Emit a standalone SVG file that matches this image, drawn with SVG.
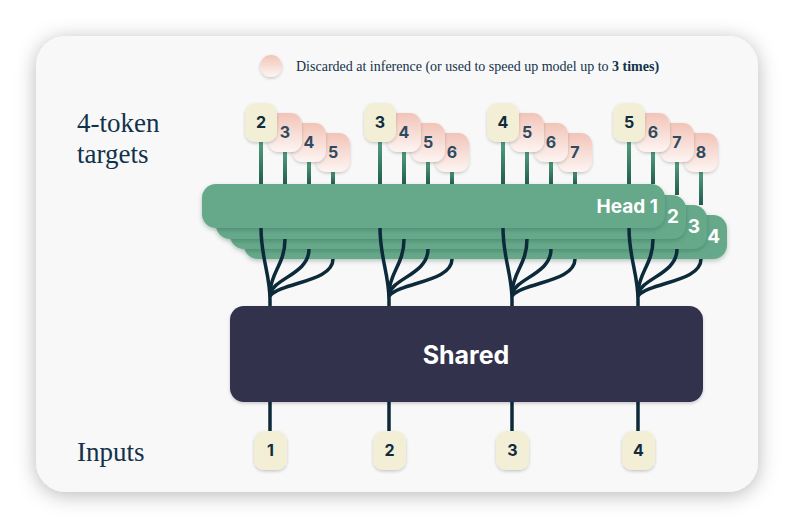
<svg xmlns="http://www.w3.org/2000/svg" width="794" height="528" viewBox="0 0 794 528">
<defs>
<filter id="cardShadow" x="-10%" y="-10%" width="120%" height="120%">
<feDropShadow dx="0" dy="3" stdDeviation="10" flood-color="#000" flood-opacity="0.28"/>
</filter>
<filter id="sh" x="-30%" y="-30%" width="160%" height="160%">
<feDropShadow dx="0" dy="1.5" stdDeviation="1.5" flood-color="#000" flood-opacity="0.2"/>
</filter>
<filter id="headSh" x="-5%" y="-30%" width="110%" height="160%">
<feDropShadow dx="0" dy="2" stdDeviation="2" flood-color="#1d4a38" flood-opacity="0.3"/>
</filter>
<linearGradient id="pink" x1="0" y1="0" x2="0" y2="1">
<stop offset="0" stop-color="#f2c4b8"/>
<stop offset="1" stop-color="#fdf5f2"/>
</linearGradient>
<linearGradient id="stemG" x1="0" y1="0" x2="0" y2="1">
<stop offset="0" stop-color="#55a283"/>
<stop offset="1" stop-color="#225c4d"/>
</linearGradient>
<style>
.lbl{font-family:"Liberation Serif","Times New Roman",serif;fill:#12324a}
.tok{font-family:Inter,"Noto Sans",sans-serif;font-weight:700;font-size:16px;text-anchor:middle}
.tgt{fill:#f2efd6}
.tgtT{fill:#0f2b3c}
.pk{fill:url(#pink)}
.pkT{fill:#2f4a60}
.stem{fill:url(#stemG)}
.wire{fill:none;stroke:#0c2a3a;stroke-width:3.5;stroke-linecap:butt}
.head{fill:#66a98a}
.headT{font-family:Inter,"Noto Sans",sans-serif;font-weight:700;font-size:19px;fill:#ffffff;text-anchor:end}
</style>
</defs>
<rect width="794" height="528" fill="#ffffff"/>
<rect id="card" x="36" y="36" width="722" height="456" rx="30" fill="#f8f8f8" filter="url(#cardShadow)"/>

<g id="labels">
<text class="lbl" x="77" y="132" font-size="27">4-token</text>
<text class="lbl" x="77" y="163" font-size="27">targets</text>
<text class="lbl" x="77" y="461" font-size="27">Inputs</text>
</g>

<g id="legend">
<circle cx="271" cy="66" r="11" class="pk" filter="url(#sh)"/>
<text class="lbl" x="296" y="71" font-size="14">Discarded at inference (or used to speed up model up to <tspan font-weight="700">3 times)</tspan></text>
</g>

<g id="head4">
<rect class="head" x="244" y="215" width="483" height="44" rx="14" filter="url(#headSh)"/>
<text class="headT" x="720" y="243">4</text>
</g>
<g id="head3">
<rect class="head" x="230" y="205" width="477" height="44" rx="14" filter="url(#headSh)"/>
<text class="headT" x="700" y="233">3</text>
</g>
<g id="head2">
<rect class="head" x="216" y="195" width="470" height="44" rx="14" filter="url(#headSh)"/>
<text class="headT" x="679" y="223">2</text>
</g>
<g id="head1">
<rect class="head" x="202" y="184" width="463" height="44" rx="14" filter="url(#headSh)"/>
<text class="headT" x="658" y="213">Head 1</text>
</g>

<g id="connectors">
<g id="stems">
<rect class="stem" x="259" y="140" width="4" height="44"/>
<rect class="stem" x="283" y="150" width="4" height="34"/>
<rect class="stem" x="307" y="160" width="4" height="24"/>
<rect class="stem" x="331" y="170" width="4" height="14"/>
<rect class="stem" x="378" y="140" width="4" height="44"/>
<rect class="stem" x="402" y="150" width="4" height="34"/>
<rect class="stem" x="426" y="160" width="4" height="24"/>
<rect class="stem" x="450" y="170" width="4" height="14"/>
<rect class="stem" x="501" y="140" width="4" height="44"/>
<rect class="stem" x="525" y="150" width="4" height="34"/>
<rect class="stem" x="549" y="160" width="4" height="24"/>
<rect class="stem" x="573" y="170" width="4" height="14"/>
<rect class="stem" x="627" y="140" width="4" height="44"/>
<rect class="stem" x="651" y="150" width="4" height="34"/>
<rect class="stem" x="675" y="160" width="4" height="35"/>
<rect class="stem" x="699" y="170" width="4" height="35"/>
</g>
<g id="branches">
<path class="wire" d="M261,228 C261,258 270,274 270,300 L270,307"/>
<path class="wire" d="M285,239 C285,264 271,272 270,292"/>
<path class="wire" d="M309,249 C309,274 274,278 270,294"/>
<path class="wire" d="M333,259 C333,282 282,282 270,296"/>
<path class="wire" d="M380,228 C380,258 389,274 389,300 L389,307"/>
<path class="wire" d="M404,239 C404,264 390,272 389,292"/>
<path class="wire" d="M428,249 C428,274 393,278 389,294"/>
<path class="wire" d="M452,259 C452,282 401,282 389,296"/>
<path class="wire" d="M503,228 C503,258 512,274 512,300 L512,307"/>
<path class="wire" d="M527,239 C527,264 513,272 512,292"/>
<path class="wire" d="M551,249 C551,274 516,278 512,294"/>
<path class="wire" d="M575,259 C575,282 524,282 512,296"/>
<path class="wire" d="M629,228 C629,258 638,274 638,300 L638,307"/>
<path class="wire" d="M653,239 C653,264 639,272 638,292"/>
<path class="wire" d="M677,249 C677,274 642,278 638,294"/>
<path class="wire" d="M701,259 C701,282 650,282 638,296"/>
</g>
<g id="inputStems">
<line class="wire" x1="270" y1="398" x2="270" y2="434"/>
<line class="wire" x1="389" y1="398" x2="389" y2="434"/>
<line class="wire" x1="512" y1="398" x2="512" y2="434"/>
<line class="wire" x1="638" y1="398" x2="638" y2="434"/>
</g>
</g>

<g id="shared">
<rect x="230" y="306" width="473" height="96" rx="14" fill="#32304d" filter="url(#sh)"/>
<text x="466" y="364" font-family="Inter,'Noto Sans',sans-serif" font-weight="700" font-size="25" fill="#ffffff" text-anchor="middle">Shared</text>
</g>

<g id="targets1">
<g id="t1-5"><rect class="pk" x="316" y="133" width="34" height="39" rx="11" filter="url(#sh)"/><text class="tok pkT" x="333" y="158">5</text></g>
<g id="t1-4"><rect class="pk" x="292" y="123" width="34" height="39" rx="11" filter="url(#sh)"/><text class="tok pkT" x="309" y="148">4</text></g>
<g id="t1-3"><rect class="pk" x="268" y="113" width="34" height="39" rx="11" filter="url(#sh)"/><text class="tok pkT" x="285" y="138">3</text></g>
<g id="t1-2"><rect class="tgt" x="245" y="103" width="32" height="39" rx="10" filter="url(#sh)"/><text class="tok tgtT" x="261" y="128">2</text></g>
</g>
<g id="targets2">
<g id="t2-6"><rect class="pk" x="435" y="133" width="34" height="39" rx="11" filter="url(#sh)"/><text class="tok pkT" x="452" y="158">6</text></g>
<g id="t2-5"><rect class="pk" x="411" y="123" width="34" height="39" rx="11" filter="url(#sh)"/><text class="tok pkT" x="428" y="148">5</text></g>
<g id="t2-4"><rect class="pk" x="387" y="113" width="34" height="39" rx="11" filter="url(#sh)"/><text class="tok pkT" x="404" y="138">4</text></g>
<g id="t2-3"><rect class="tgt" x="364" y="103" width="32" height="39" rx="10" filter="url(#sh)"/><text class="tok tgtT" x="380" y="128">3</text></g>
</g>
<g id="targets3">
<g id="t3-7"><rect class="pk" x="558" y="133" width="34" height="39" rx="11" filter="url(#sh)"/><text class="tok pkT" x="575" y="158">7</text></g>
<g id="t3-6"><rect class="pk" x="534" y="123" width="34" height="39" rx="11" filter="url(#sh)"/><text class="tok pkT" x="551" y="148">6</text></g>
<g id="t3-5"><rect class="pk" x="510" y="113" width="34" height="39" rx="11" filter="url(#sh)"/><text class="tok pkT" x="527" y="138">5</text></g>
<g id="t3-4"><rect class="tgt" x="487" y="103" width="32" height="39" rx="10" filter="url(#sh)"/><text class="tok tgtT" x="503" y="128">4</text></g>
</g>
<g id="targets4">
<g id="t4-8"><rect class="pk" x="684" y="133" width="34" height="39" rx="11" filter="url(#sh)"/><text class="tok pkT" x="701" y="158">8</text></g>
<g id="t4-7"><rect class="pk" x="660" y="123" width="34" height="39" rx="11" filter="url(#sh)"/><text class="tok pkT" x="677" y="148">7</text></g>
<g id="t4-6"><rect class="pk" x="636" y="113" width="34" height="39" rx="11" filter="url(#sh)"/><text class="tok pkT" x="653" y="138">6</text></g>
<g id="t4-5"><rect class="tgt" x="613" y="103" width="32" height="39" rx="10" filter="url(#sh)"/><text class="tok tgtT" x="629" y="128">5</text></g>
</g>

<g id="inputs">
<g id="in1"><rect class="tgt" x="254" y="431" width="33" height="39" rx="10" filter="url(#sh)"/><text class="tok tgtT" x="270.5" y="456">1</text></g>
<g id="in2"><rect class="tgt" x="373" y="431" width="33" height="39" rx="10" filter="url(#sh)"/><text class="tok tgtT" x="389.5" y="456">2</text></g>
<g id="in3"><rect class="tgt" x="496" y="431" width="33" height="39" rx="10" filter="url(#sh)"/><text class="tok tgtT" x="512.5" y="456">3</text></g>
<g id="in4"><rect class="tgt" x="622" y="431" width="33" height="39" rx="10" filter="url(#sh)"/><text class="tok tgtT" x="638.5" y="456">4</text></g>
</g>
</svg>
